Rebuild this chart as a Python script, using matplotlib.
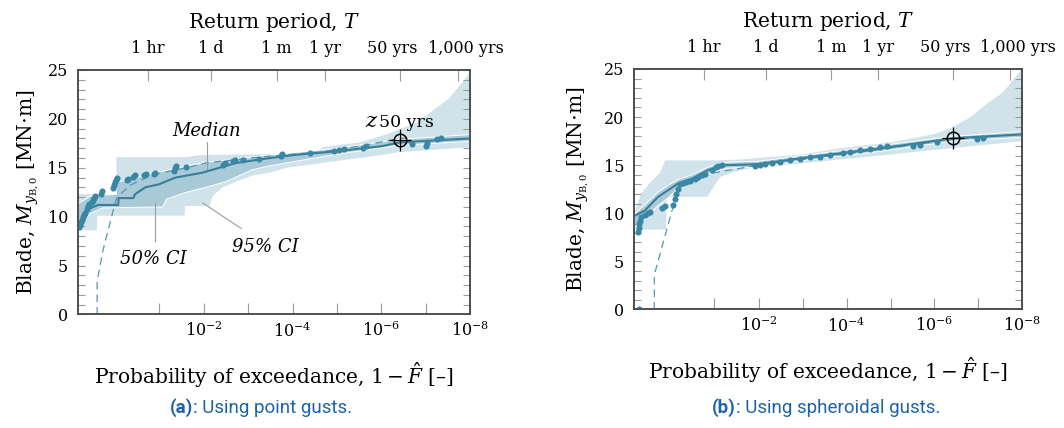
import numpy as np
import matplotlib
matplotlib.use('Agg')
import matplotlib.pyplot as plt
from matplotlib.ticker import FixedLocator, FixedFormatter, NullLocator, MultipleLocator
from matplotlib.transforms import ScaledTranslation

plt.rcParams['font.family'] = ['DejaVu Serif']
plt.rcParams['mathtext.fontset'] = 'dejavuserif'

# --- values ---
# x: probability of exceedance 1 - F, y: blade root moment M_yB,0 [MN m]

# (a) point gusts
a_dots_p = [0.9987, 0.9982, 0.9975, 0.9966, 0.9955, 0.9941, 0.9924, 0.9877, 0.9846, 0.9789,
            0.9663, 0.960, 0.9527, 0.941, 0.874, 0.860, 0.681, 0.662, 0.643, 0.614,
            0.595, 0.424, 0.408, 0.326, 0.306, 0.205, 0.187, 0.128, 0.119, 0.0471,
            0.0449, 0.0427, 0.0256, 3.8e-3, 3.27e-3, 2.27e-3, 1.95e-3, 1.35e-3, 5.6e-4, 1.88e-4,
            1.70e-4, 4.0e-5, 1.15e-5, 8.9e-6, 6.8e-6, 2.6e-6, 2.2e-6, 2.0e-7, 1.0e-7, 9.3e-8,
            5.5e-8, 4.5e-8]
a_dots_y = [8.9, 9.2, 9.5, 9.7, 10.0, 10.2, 10.4, 10.8, 11.1, 11.3,
            11.5, 11.7, 11.9, 12.1, 12.3, 12.6, 12.9, 13.2, 13.5, 13.8,
            14.0, 13.7, 13.9, 14.1, 14.3, 14.3, 14.4, 14.4, 14.5, 14.7,
            15.0, 15.2, 15.1, 15.3, 15.5, 15.7, 15.8, 15.8, 15.9, 16.2,
            16.4, 16.5, 16.7, 16.8, 16.9, 17.0, 17.2, 17.4, 17.2, 17.5,
            17.9, 18.0]
a_med_p = [0.9989, 0.9932, 0.970, 0.915, 0.578, 0.570, 0.325, 0.302, 0.191, 0.100,
           0.043, 0.0108, 4.5e-3, 1.87e-3, 3.2e-4, 9.6e-5, 9.8e-6, 1.0e-6, 3.8e-7, 1e-8]
a_med_y = [9.0, 10.2, 10.9, 11.2, 11.2, 11.9, 11.9, 12.3, 13.0, 13.3,
           14.0, 14.5, 15.0, 15.5, 16.0, 16.3, 16.7, 17.2, 17.6, 18.0]
a_fit_p = [0.924, 0.924, 0.849, 0.737, 0.610, 0.377, 0.132, 0.0248, 8.9e-3, 5.6e-4,
           2.5e-5, 3.2e-6, 3.8e-7, 2.0e-7]
a_fit_y = [0.0, 3.4, 6.6, 9.3, 11.9, 13.2, 14.3, 15.0, 15.5, 16.1,
           16.6, 17.2, 18.0, 18.1]
a_ci95_up_p = [0.9991, 0.614, 0.612, 0.0243, 0.0125, 3.3e-4, 2.5e-5, 2.25e-5, 3.1e-6, 7.8e-7,
               4.0e-7, 1.63e-7, 7.1e-8, 2.95e-8, 1.23e-8, 1e-8]
a_ci95_up_y = [12.3, 12.3, 16.1, 16.1, 16.3, 16.4, 16.7, 17.1, 17.6, 18.4,
               18.9, 19.6, 20.8, 22.1, 24.2, 24.8]
a_ci95_lo_p = [0.9991, 0.9271, 0.922, 0.027, 0.0263, 7.5e-3, 6.4e-3, 3.8e-3, 1.85e-3, 8.1e-4,
               3.3e-4, 1.38e-4, 9.8e-6, 1.0e-6, 4.0e-7, 1e-8]
a_ci95_lo_y = [8.6, 8.6, 10.1, 10.1, 11.1, 11.1, 12.1, 13.0, 13.6, 14.2,
               14.5, 15.0, 15.7, 16.3, 16.6, 17.1]
a_ci50_up_p = [0.9991, 0.9767, 0.614, 0.605, 0.284, 0.0577, 0.0107, 3.3e-4, 9.8e-6, 4.0e-7, 1e-8]
a_ci50_up_y = [11.3, 12.1, 12.3, 13.5, 14.0, 14.8, 15.5, 16.3, 17.0, 17.9, 18.4]
a_ci50_lo_p = [0.9991, 0.9767, 0.853, 0.082, 0.068, 0.0247, 7.5e-3, 3.15e-3, 8.1e-4, 3.3e-4,
               9.8e-6, 4.0e-7, 1e-8]
a_ci50_lo_y = [9.0, 10.3, 10.9, 11.0, 11.8, 12.5, 13.1, 13.6, 14.8, 15.2,
               16.4, 17.3, 17.7]

# (b) spheroidal gusts
b_dots_p = [0.9957, 0.9968, 0.9963, 0.9957, 0.9943, 0.9926, 0.9811, 0.9666, 0.9527, 0.803,
            0.751, 0.598, 0.560, 0.542, 0.504, 0.469, 0.417, 0.369, 0.312, 0.250,
            0.218, 0.180, 0.156, 0.111, 0.091, 0.082, 0.067, 0.0123, 9.5e-3, 7.3e-3,
            5.0e-3, 3.3e-3, 1.96e-3, 1.16e-3, 6.8e-4, 4.0e-4, 2.4e-4, 1.21e-4, 8.4e-5, 5.0e-5,
            2.9e-5, 1.73e-5, 1.2e-5, 3.1e-6, 2.1e-6, 8.7e-7, 1.06e-7, 7.8e-8]
b_dots_y = [0.1, 8.1, 8.5, 8.9, 9.2, 9.6, 9.8, 10.0, 10.1, 10.5,
            10.8, 10.9, 11.5, 12.0, 12.5, 13.0, 13.1, 13.3, 13.4, 13.6,
            13.8, 14.0, 14.1, 14.5, 14.8, 14.9, 15.0, 14.9, 15.0, 15.1,
            15.2, 15.3, 15.5, 15.6, 15.8, 15.9, 16.1, 16.3, 16.4, 16.6,
            16.7, 16.9, 17.0, 17.0, 17.1, 17.4, 17.7, 17.8]
b_med_p = [0.9983, 0.9811, 0.866, 0.695, 0.504, 0.286, 0.135, 0.0577, 0.0104, 6.8e-4,
           2.0e-5, 3.7e-7, 1e-8]
b_med_y = [9.8, 10.3, 11.7, 12.4, 13.1, 13.6, 14.5, 15.0, 15.1, 15.85,
           16.7, 17.8, 18.2]
b_fit_p = [0.9128, 0.9128, 0.598, 0.499, 0.286, 0.135, 0.0104, 6.8e-4, 2.0e-5, 3.7e-7, 6.3e-8]
b_fit_y = [0.0, 3.6, 10.7, 12.7, 13.4, 14.1, 15.0, 15.7, 16.6, 17.7, 17.9]
b_ci95_up_p = [0.9991, 0.9926, 0.9527, 0.836, 0.751, 0.082, 0.0267, 1.1e-3, 1.21e-4, 8.7e-6,
               8.7e-7, 3.7e-7, 1.5e-7, 6.3e-8, 2.7e-8, 1e-8]
b_ci95_up_y = [10.0, 12.0, 13.2, 14.2, 15.5, 15.5, 15.6, 16.1, 16.8, 17.4,
               18.3, 19.0, 20.0, 21.4, 22.6, 25.0]
b_ci95_lo_p = [0.9991, 0.732, 0.723, 0.142, 0.100, 0.073, 0.0364, 0.0152, 1.04e-3, 2.9e-5,
               9.6e-7, 1e-8]
b_ci95_lo_y = [8.3, 8.3, 11.7, 11.7, 12.8, 13.8, 14.3, 14.7, 15.2, 15.9,
               16.6, 17.5]
b_ci50_p = [0.9991, 0.9811, 0.866, 0.695, 0.504, 0.286, 0.135, 0.0577, 0.0104, 6.8e-4,
            2.0e-5, 3.7e-7, 1e-8]
b_ci50_up_y = [9.9, 10.9, 12.2, 12.9, 13.5, 14.0, 14.8, 15.3, 15.4, 16.1, 17.0, 18.0, 18.5]
b_ci50_lo_y = [8.5, 9.5, 10.8, 11.6, 12.6, 13.2, 14.1, 14.7, 14.8, 15.6, 16.4, 17.5, 17.9]

# 50-year characteristic load
z50_y = [17.8, 17.8]

# return period axis (10-minute samples)
rp_labels = ['1 hr', '1 d', '1 m', '1 yr', '50 yrs', '1,000 yrs']
rp_minutes = [60, 1440, 43830, 525960, 26298000, 525960000]
rp_nudge_px = [0, 0, 0, 0, -8, 8]   # labels pushed apart as in the original
sample_minutes = 10

LIGHT = '#d0e3eb'
DARK = '#a8cad8'
LINE = '#3b7d96'
DOT = '#3987a4'
FIT = '#5796ae'
GREY = '#9a9a9a'
SPINE = '#4a4a4a'
CAPTION = '#1d63a8'


# Gumbel-type reduced variate, increasing in p (axis limits are given high -> low)
def fwd(p):
    p = np.asarray(p, dtype=float)
    with np.errstate(divide='ignore', invalid='ignore'):
        return np.log10(-np.log1p(-p))


def inv(u):
    u = np.asarray(u, dtype=float)
    return -np.expm1(-10.0 ** u)


P_LEFT = float(inv(0.85))
P_RIGHT = 1e-8


def band(ax, up_p, up_y, lo_p, lo_y, color, **kw):
    xs = np.r_[up_p, lo_p[::-1]]
    ys = np.r_[up_y, lo_y[::-1]]
    ax.fill(xs, ys, color=color, **kw)


def style_axes(ax, ylabel_pad):
    ax.set_xscale('function', functions=(fwd, inv))
    ax.set_xlim(P_LEFT, P_RIGHT)
    ax.set_ylim(0, 25)
    dec = [10.0 ** -k for k in range(1, 9)]
    ax.xaxis.set_major_locator(FixedLocator(dec))
    ax.xaxis.set_major_formatter(FixedFormatter(
        ['' if k % 2 else r'$10^{-%d}$' % k for k in range(1, 9)]))
    ax.xaxis.set_minor_locator(NullLocator())
    ax.yaxis.set_major_locator(MultipleLocator(5))
    ax.yaxis.set_minor_locator(MultipleLocator(1))
    ax.tick_params(axis='x', which='major', direction='in', length=8, width=0.8,
                   color=GREY, labelsize=11.5, pad=5)
    ax.tick_params(axis='y', which='both', direction='in', length=5, width=0.8,
                   color=GREY, left=True, right=True, labelsize=11.5, pad=7)
    ax.set_xlabel(r'Probability of exceedance, $1-\hat{F}$ [–]', fontsize=14.5, labelpad=14)
    ax.set_ylabel(r'Blade, $M_{y_{\mathrm{B,0}}}$ [MN$\cdot$m]', fontsize=14.5,
                  labelpad=ylabel_pad)

    top = ax.twiny()
    top.set_xscale('function', functions=(fwd, inv))
    top.set_xlim(P_LEFT, P_RIGHT)
    rp_p = [sample_minutes / m for m in rp_minutes]
    top.xaxis.set_major_locator(FixedLocator(rp_p))
    top.xaxis.set_major_formatter(FixedFormatter(rp_labels))
    top.xaxis.set_minor_locator(NullLocator())
    top.tick_params(axis='x', direction='in', length=8, width=0.8, color=GREY,
                    labelsize=11.5, pad=9)
    top.set_xlabel(r'Return period, $T$', fontsize=14.5, labelpad=9)
    fig = ax.figure
    for lab, dx in zip(top.get_xticklabels(), rp_nudge_px):
        if dx:
            lab.set_transform(lab.get_transform()
                              + ScaledTranslation(dx / 100, 0, fig.dpi_scale_trans))
    for a in (ax, top):
        for s in a.spines.values():
            s.set_color(SPINE)
            s.set_linewidth(1.1)
    return top


def draw_panel(ax, dots_p, dots_y, med_p, med_y, fit_p, fit_y,
               c95_up_p, c95_up_y, c95_lo_p, c95_lo_y,
               c50_up_p, c50_up_y, c50_lo_p, c50_lo_y, z_y):
    band(ax, c95_up_p, c95_up_y, c95_lo_p, c95_lo_y, LIGHT, lw=0, zorder=1)
    band(ax, c50_up_p, c50_up_y, c50_lo_p, c50_lo_y, DARK, ec='white', lw=0.7, zorder=2)
    ax.plot(fit_p, fit_y, ls=(0, (6, 4)), color=FIT, lw=0.9, zorder=3)
    ax.plot(med_p, med_y, color=LINE, lw=1.5, zorder=4)
    ax.plot(dots_p, dots_y, 'o', color=DOT, ms=4.4, mec='none', zorder=5)
    p50 = sample_minutes / rp_minutes[4]
    ax.plot(p50, z_y, 'o', mfc='none', mec='black', ms=9, mew=1.1, zorder=7)
    ax.plot(p50, z_y, '+', color='black', ms=16, mew=0.9, zorder=7)


fig = plt.figure(figsize=(10.64, 4.28), dpi=100)
ax_a = fig.add_axes([0.0730, 0.2652, 0.3687, 0.5713])
ax_b = fig.add_axes([0.5959, 0.2769, 0.3647, 0.5619])

draw_panel(ax_a, a_dots_p, a_dots_y, a_med_p, a_med_y, a_fit_p, a_fit_y,
           a_ci95_up_p, a_ci95_up_y, a_ci95_lo_p, a_ci95_lo_y,
           a_ci50_up_p, a_ci50_up_y, a_ci50_lo_p, a_ci50_lo_y, z50_y[0])
draw_panel(ax_b, b_dots_p, b_dots_y, b_med_p, b_med_y, b_fit_p, b_fit_y,
           b_ci95_up_p, b_ci95_up_y, b_ci95_lo_p, b_ci95_lo_y,
           b_ci50_p, b_ci50_up_y, b_ci50_p, b_ci50_lo_y, z50_y[1])

style_axes(ax_a, 5)
style_axes(ax_b, 9)

# labels inside panel (a)
ax_a.text(1.2e-6, 19.2, r'$z$', fontsize=15, ha='right', va='baseline', zorder=8)
ax_a.text(1.15e-6, 19.2, '50 yrs', fontsize=12.5, ha='left', va='baseline', zorder=8)
ax_a.text(8.7e-3, 18.8, 'Median', fontsize=13, style='italic', ha='center', va='center')
ax_a.plot([8.7e-3, 8.7e-3], [17.6, 14.9], color=GREY, lw=0.8, zorder=6)
ax_a.text(0.128, 5.7, '50% CI', fontsize=13, style='italic', ha='center', va='center')
ax_a.plot([0.119, 0.119], [7.5, 11.4], color=GREY, lw=0.8, zorder=6)
ax_a.text(4.1e-4, 6.95, '95% CI', fontsize=13, style='italic', ha='center', va='center')
ax_a.plot([1.45e-3, 0.0106], [8.8, 11.4], color=GREY, lw=0.8, zorder=6)

# sub-captions
fig.text(0.1814, 0.047, '(a)', color=CAPTION, fontsize=13.5, fontweight='bold',
         family='Roboto', ha='right', va='center')
fig.text(0.1814, 0.047, ': Using point gusts.', color=CAPTION, fontsize=13.5,
         family='Roboto', ha='left', va='center')
fig.text(0.6917, 0.047, '(b)', color=CAPTION, fontsize=13.5, fontweight='bold',
         family='Roboto', ha='right', va='center')
fig.text(0.6917, 0.047, ': Using spheroidal gusts.', color=CAPTION, fontsize=13.5,
         family='Roboto', ha='left', va='center')

fig.savefig('out.png', dpi=100)
